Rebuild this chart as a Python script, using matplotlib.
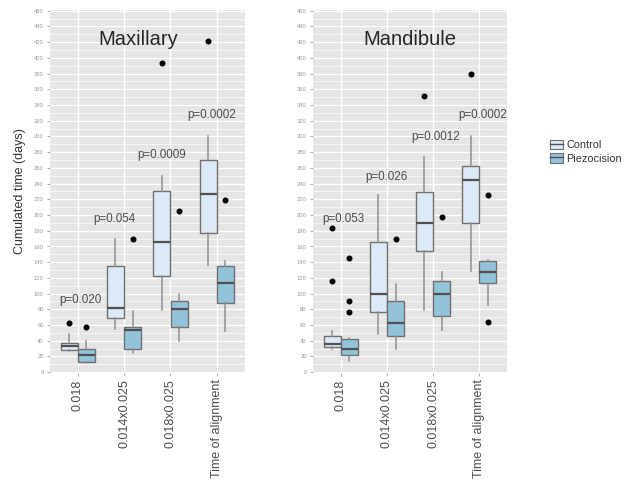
import matplotlib
matplotlib.use("Agg")
import matplotlib.pyplot as plt
from matplotlib.patches import Patch
from matplotlib.lines import Line2D
import numpy as np

plt.rcParams['font.family'] = ['Liberation Sans', 'DejaVu Sans']

categories = ["0.018", "0.014x0.025", "0.018x0.025", "Time of alignment"]
groups = ["Control", "Piezocision"]

# per panel, per group: [whislo, q1, med, q3, whishi] for each category
max_control = [[27, 28, 33, 37, 49], [55, 69, 82, 135, 169], [79, 123, 166, 230, 250], [136, 177, 227, 270, 301]]
max_piezo = [[12, 13, 22, 29, 40], [25, 29, 54, 57, 78], [40, 57, 80, 91, 99], [53, 88, 113, 135, 142]]
max_control_out = [[62], [], [393], [421]]
max_piezo_out = [[57], [169], [205], [219]]

man_control = [[30, 32, 36, 46, 52], [49, 77, 99, 166, 225], [79, 154, 190, 229, 274], [129, 190, 245, 262, 301]]
man_piezo = [[14, 22, 30, 42, 44], [29, 46, 62, 91, 112], [54, 71, 99, 116, 127], [86, 113, 127, 142, 143]]
man_control_out = [[184, 116], [], [351], [380]]
man_piezo_out = [[145, 90, 77], [169], [198], [225, 64]]

max_p = ["p=0.020", "p=0.054", "p=0.0009", "p=0.0002"]
max_p_y = [92, 195, 277, 327]
max_p_dx = [0.05, -0.2, -0.2, -0.1]
man_p = ["p=0.053", "p=0.026", "p=0.0012", "p=0.0002"]
man_p_y = [195, 248, 299, 327]
man_p_dx = [0.05, 0.0, 0.05, 0.08]

titles = ["Maxillary", "Mandibule"]
title_x = [2.3, 2.5]
ylabel = "Cumulated time (days)"

fill_colors = {"Control": "#dce9f6", "Piezocision": "#93c3da"}

W, H = 626, 486
fig = plt.figure(figsize=(W / 100, H / 100), dpi=100)

def axrect(x0, x1, y0, y1):
    return [x0 / W, 1 - y1 / H, (x1 - x0) / W, (y1 - y0) / H]

axes = [fig.add_axes(axrect(50, 244.5, 10, 373)), fig.add_axes(axrect(313, 507, 10, 373))]

panels = [
    (max_control, max_piezo, max_control_out, max_piezo_out, max_p, max_p_y, max_p_dx),
    (man_control, man_piezo, man_control_out, man_piezo_out, man_p, man_p_y, man_p_dx),
]

def make_stats(vals, outs):
    return [dict(whislo=v[0], q1=v[1], med=v[2], q3=v[3], whishi=v[4], fliers=o) for v, o in zip(vals, outs)]

x = np.arange(1, len(categories) + 1)
bw = 0.375
for ax, (c, p, co, po, pl, py, pdx), title, tx in zip(axes, panels, titles, title_x):
    ax.set_facecolor("#e5e5e5")
    for k in range(0, 470, 10):
        lw = 0.9 if k % 20 == 0 else 0.45
        ax.axhline(k, color="white", lw=lw, zorder=0)
    for xi in x:
        ax.axvline(xi, color="white", lw=0.9, zorder=0)
    for vals, outs, off, grp in [(c, co, -bw / 2, "Control"), (p, po, bw / 2, "Piezocision")]:
        ax.bxp(make_stats(vals, outs), positions=x + off, widths=bw * 0.98,
               patch_artist=True, showcaps=False,
               boxprops=dict(facecolor=fill_colors[grp], edgecolor="#707070", linewidth=1.0),
               medianprops=dict(color="#505050", linewidth=1.6),
               whiskerprops=dict(color="#909090", linewidth=1.1),
               flierprops=dict(marker="o", markerfacecolor="black", markeredgecolor="black",
                               markersize=3.3, linestyle="none"),
               zorder=3)
    for xi, lab, yy, dx in zip(x, pl, py, pdx):
        ax.text(xi + dx, yy, lab, ha="center", va="center", fontsize=8.4, color="#4d4d4d", zorder=5)
    ax.text(tx, 423, title, ha="center", va="center", fontsize=14.5, color="#262626", zorder=5)
    ax.set_xlim(0.4, 4.6)
    ax.set_ylim(-1, 461)
    ax.set_yticks(np.arange(0, 461, 20))
    ax.set_yticklabels([str(v) for v in range(0, 461, 20)], fontsize=4.2, color="#9a9a9a")
    ax.set_xticks(x)
    ax.set_xticklabels(categories, rotation=90, fontsize=9, color="#4d4d4d")
    ax.tick_params(axis="both", length=2.5, width=0.6, color="#9a9a9a", pad=2)
    for s in ax.spines.values():
        s.set_visible(False)

axes[0].set_ylabel(ylabel, fontsize=9, color="#333333", labelpad=6)

handles = [(Patch(facecolor=fill_colors[g], edgecolor="#707070", linewidth=0.8),
            Line2D([], [], color="#505050", lw=1.0)) for g in groups]
fig.legend(handles, groups, loc="upper left", bbox_to_anchor=(540 / W, 1 - 130 / H),
           frameon=False, fontsize=7.8, handlelength=1.2, handleheight=1.0,
           handletextpad=0.35, labelspacing=0.25, labelcolor="#333333")

fig.savefig("out.png", dpi=100)
